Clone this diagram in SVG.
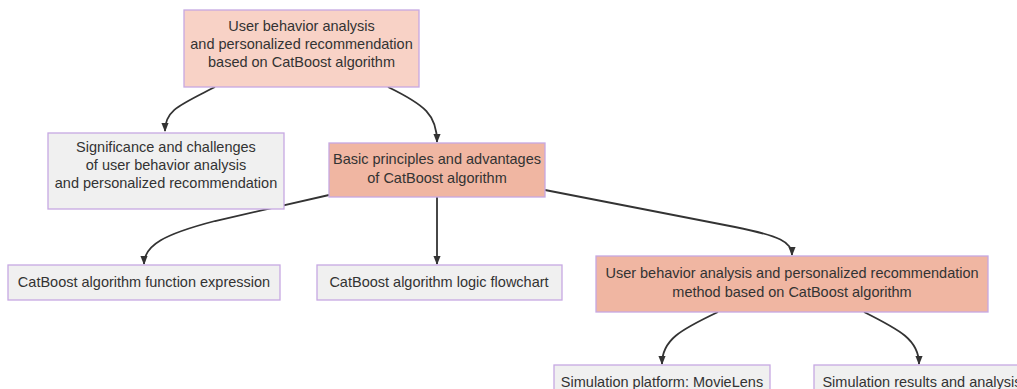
<svg xmlns="http://www.w3.org/2000/svg" width="1017" height="389" viewBox="0 0 1017 389">
<style>
.n rect{stroke:#c6a8e2;stroke-width:1.3}
.root rect{fill:#f8d2c6}
.mid rect{fill:#f0b6a2}
.leaf rect{fill:#f0f0f0}
text{font-family:"Liberation Sans",Arial,sans-serif;font-size:14.5px;fill:#333;text-anchor:middle;dominant-baseline:central}
.e path{fill:none;stroke:#333;stroke-width:1.8}
</style>
<defs>
<marker id="ah" viewBox="0 0 10 10" refX="9" refY="5" markerWidth="5" markerHeight="5" orient="auto">
<path d="M0,1 L10,5 L0,9 z" fill="#333"/>
</marker>
</defs>
<g class="e">
<path d="M215,87 C180,105 165,110 165,131" marker-end="url(#ah)"/>
<path d="M388,87 C425,105 437,115 437,142" marker-end="url(#ah)"/>
<path d="M329,195 L215,221 C165,234 144,245 144,264" marker-end="url(#ah)"/>
<path d="M437,197 L437,264" marker-end="url(#ah)"/>
<path d="M545,190 L735,227 C780,236 792,242 792,255" marker-end="url(#ah)"/>
<path d="M718,312 C680,330 662,340 662,364" marker-end="url(#ah)"/>
<path d="M864,312 C900,330 919,340 919,364" marker-end="url(#ah)"/>
</g>
<g id="root" class="n root">
<rect x="184" y="10" width="235" height="77"/>
<text x="301.5" y="26">User behavior analysis</text>
<text x="301.5" y="44">and personalized recommendation</text>
<text x="301.5" y="62">based on CatBoost algorithm</text>
</g>
<g id="significance" class="n leaf">
<rect x="48" y="133" width="236" height="76"/>
<text x="166" y="147">Significance and challenges</text>
<text x="166" y="165">of user behavior analysis</text>
<text x="166" y="183">and personalized recommendation</text>
</g>
<g id="basic" class="n mid">
<rect x="329" y="143" width="216" height="54"/>
<text x="437" y="159">Basic principles and advantages</text>
<text x="437" y="178">of CatBoost algorithm</text>
</g>
<g id="funcexpr" class="n leaf">
<rect x="8" y="265" width="272" height="35"/>
<text x="144" y="282">CatBoost algorithm function expression</text>
</g>
<g id="flowchart" class="n leaf">
<rect x="317" y="265" width="245" height="35"/>
<text x="439" y="282">CatBoost algorithm logic flowchart</text>
</g>
<g id="method" class="n mid">
<rect x="596" y="256" width="392" height="56"/>
<text x="792" y="273">User behavior analysis and personalized recommendation</text>
<text x="792" y="292">method based on CatBoost algorithm</text>
</g>
<g id="simplatform" class="n leaf">
<rect x="554" y="365" width="216" height="35"/>
<text x="662" y="382">Simulation platform: MovieLens</text>
</g>
<g id="simresults" class="n leaf">
<rect x="814" y="365" width="220" height="35"/>
<text x="922" y="382">Simulation results and analysis</text>
</g>
</svg>
